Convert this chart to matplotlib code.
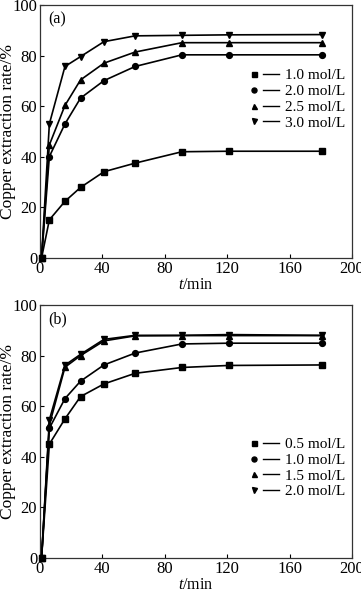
import matplotlib
matplotlib.use("Agg")
import matplotlib.pyplot as plt
from matplotlib.lines import Line2D
from matplotlib.legend_handler import HandlerTuple

plt.rcParams['font.family'] = ['Liberation Serif', 'DejaVu Serif']
plt.rcParams['mathtext.fontset'] = 'custom'
plt.rcParams['mathtext.rm'] = 'Liberation Serif'
plt.rcParams['mathtext.it'] = 'Liberation Serif:italic'

# time points (min)
t = [1, 6, 16, 26, 41, 61, 91, 121, 181]

# panel (a)
labels_a = ["1.0 mol/L", "2.0 mol/L", "2.5 mol/L", "3.0 mol/L"]
a_10 = [0, 15.1, 22.4, 27.9, 34.1, 37.5, 42.0, 42.2, 42.2]
a_20 = [0, 40.1, 53.0, 63.2, 70.1, 75.7, 80.3, 80.3, 80.3]
a_25 = [0, 44.7, 60.3, 70.4, 77.0, 81.4, 85.1, 85.1, 85.1]
a_30 = [0, 53.0, 75.7, 79.6, 85.5, 87.8, 88.0, 88.2, 88.3]

# panel (b)
labels_b = ["0.5 mol/L", "1.0 mol/L", "1.5 mol/L", "2.0 mol/L"]
b_05 = [0, 45.0, 55.0, 63.8, 68.8, 73.0, 75.3, 76.1, 76.3]
b_10 = [0, 51.3, 63.0, 69.9, 76.3, 81.0, 84.6, 84.9, 84.9]
b_15 = [0, 52.6, 75.4, 80.0, 85.8, 87.8, 87.9, 87.9, 87.9]
b_20 = [0, 54.6, 76.2, 80.5, 86.4, 88.0, 88.0, 88.3, 88.0]

markers = ['s', 'o', '^', 'v']
xticks = [0, 40, 80, 120, 160, 200]
yticks = [0, 20, 40, 60, 80, 100]

fig = plt.figure(figsize=(3.61, 5.93), dpi=100)
ax_a = fig.add_axes([0.1108, 0.5649, 0.8642, 0.4267])
ax_b = fig.add_axes([0.1108, 0.0590, 0.8642, 0.4267])

def draw(ax, series, labels, tag, legend_loc):
    handles = []
    for y, m, lab in zip(series, markers, labels):
        ax.plot(t, y, color='black', lw=1.2, marker=m, ms=4.2,
                markerfacecolor='black', markeredgecolor='black', clip_on=False, zorder=3)
        hm = Line2D([], [], ls='none', marker=m, ms=3.6, color='black')
        hl = Line2D([], [], color='black', lw=1.0)
        handles.append((hm, hl))
    ax.set_xlim(0, 200)
    ax.set_ylim(0, 100)
    ax.set_xticks(xticks)
    ax.set_yticks(yticks)
    ax.tick_params(direction='in', length=3, width=0.8, labelsize=12, pad=2)
    for s in ax.spines.values():
        s.set_linewidth(0.9)
        s.set_color('#333333')
    ax.set_xlabel(r"$\it{t}$/min", fontsize=11.5, labelpad=0)
    ax.set_ylabel("Copper extraction rate/%", fontsize=12.5, labelpad=0)
    ax.yaxis.set_label_coords(-0.076, 0.5)
    ax.text(0.025, 0.975, tag, transform=ax.transAxes, fontsize=11.5, va='top', ha='left')
    ax.legend(handles, labels, handler_map={tuple: HandlerTuple(ndivide=2, pad=0.1)},
              loc='upper left', bbox_to_anchor=legend_loc, frameon=False, fontsize=11,
              handlelength=2.2, handletextpad=0.4, labelspacing=0.13, borderpad=0)

draw(ax_a, [a_10, a_20, a_25, a_30], labels_a, "(a)", (0.635, 0.778))
draw(ax_b, [b_05, b_10, b_15, b_20], labels_b, "(b)", (0.635, 0.506))

fig.savefig("out.png", dpi=100)
